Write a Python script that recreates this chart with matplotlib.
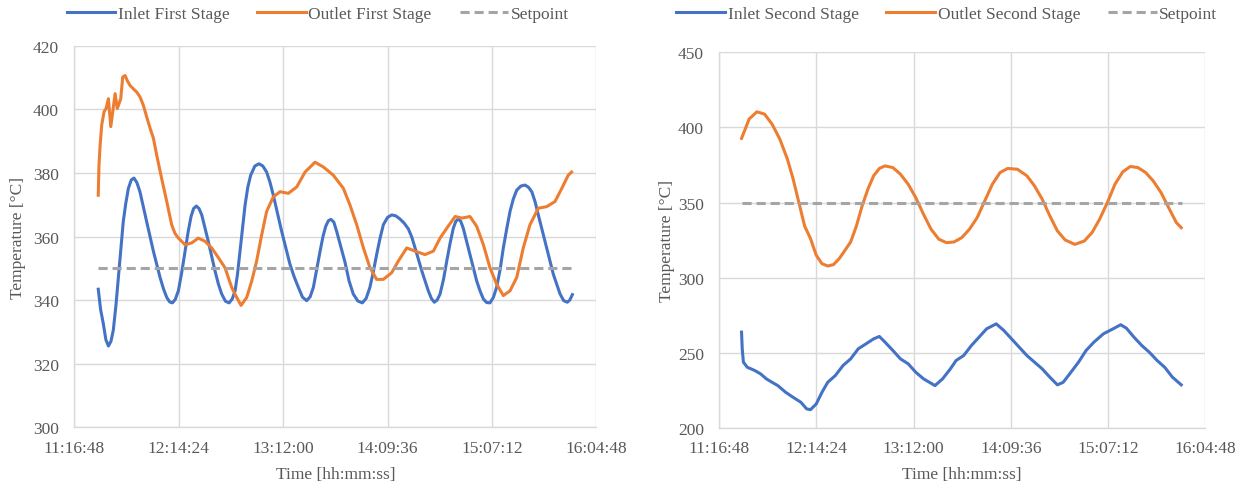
import numpy as np
import matplotlib
matplotlib.use("Agg")
import matplotlib.pyplot as plt
from matplotlib.ticker import FuncFormatter, MultipleLocator

# readings: time in minutes after 11:00, temperature in degC
t_in1 = [30.0, 31.3, 32.8, 34.2, 35.6, 37.0, 38.3, 39.7, 41.1, 42.5, 43.8, 45.2, 46.6, 48.2,
         49.7, 51.3, 53.0, 54.8, 56.7, 60.4, 64.1, 66.0, 67.8, 69.4, 70.9, 72.5, 74.2, 76.0,
         77.9, 79.6, 81.2, 82.6, 84.1, 85.6, 87.1, 90.7, 94.4, 96.3, 98.1, 100.2, 102.2, 103.9,
         105.5, 106.8, 108.2, 109.6, 111.0, 112.5, 114.1, 116.4, 118.7, 120.8, 122.9, 124.7,
         126.6, 131.2, 135.8, 138.1, 140.4, 142.7, 145.0, 146.9, 148.7, 150.5, 152.4, 154.0,
         155.5, 157.0, 158.4, 160.0, 161.6, 166.1, 168.4, 170.7, 173.2, 175.7, 177.8, 179.9,
         181.8, 183.6, 185.5, 187.3, 189.6, 191.9, 194.2, 196.5, 198.8, 201.1, 203.0, 204.8,
         208.5, 212.1, 213.8, 215.4, 217.0, 218.6, 220.5, 222.3, 224.1, 225.9, 227.3, 228.7,
         230.0, 231.4, 235.1, 238.8, 240.7, 242.5, 244.3, 246.1, 248.0, 249.8, 251.7, 253.5,
         255.4, 257.2, 259.0, 260.9, 263.2, 265.5, 267.4, 269.2, 271.0, 272.8, 277.4, 281.1,
         284.8, 286.8, 288.8, 290.2, 291.6]
inlet1 = [343.4, 337.0, 332.5, 327.5, 325.5, 327.0, 330.5, 338.0, 347.1, 356.0, 364.7, 370.5,
          375.1, 377.8, 378.4, 377.0, 374.1, 369.5, 364.7, 355.4, 347.1, 343.5, 340.8, 339.4,
          339.1, 340.2, 342.9, 348.5, 355.4, 361.5, 366.3, 368.8, 369.6, 368.8, 366.8, 358.5,
          349.2, 345.0, 341.9, 339.6, 339.1, 340.3, 342.9, 348.0, 355.4, 362.8, 369.9, 375.5,
          379.3, 382.2, 382.9, 382.2, 380.3, 377.2, 373.0, 361.6, 351.2, 347.3, 344.0, 340.9,
          339.8, 341.0, 344.0, 349.5, 355.4, 360.0, 363.2, 365.0, 365.4, 364.5, 361.5, 352.0,
          346.0, 341.9, 339.7, 339.1, 340.5, 344.0, 349.0, 354.3, 359.5, 363.7, 366.0, 366.8,
          366.5, 365.5, 364.2, 362.4, 359.8, 356.4, 349.2, 342.9, 340.5, 339.3, 340.0, 341.9,
          346.5, 352.3, 357.8, 362.6, 364.8, 365.5, 364.8, 362.6, 354.3, 346.0, 342.8, 340.3,
          339.2, 339.1, 340.8, 344.0, 349.5, 356.4, 362.5, 367.9, 371.8, 374.6, 375.9, 376.2,
          375.5, 374.1, 371.0, 366.8, 356.4, 348.1, 341.9, 339.8, 339.3, 340.0, 341.7]

t_out1 = [30.0, 30.2, 30.4, 31.0, 31.9, 33.2, 34.3, 35.6, 36.9, 38.0, 39.3, 40.5, 42.4, 43.5,
          44.8, 46.0, 47.5, 49.4, 51.2, 53.0, 54.9, 56.7, 58.6, 60.4, 62.3, 65.0, 67.8, 70.5,
          72.3, 74.2, 77.9, 81.6, 85.2, 88.9, 92.6, 96.3, 99.9, 103.6, 106.4, 108.8, 111.9,
          114.7, 117.4, 120.2, 122.9, 126.6, 130.3, 134.9, 139.5, 144.1, 149.6, 154.2, 159.7,
          165.2, 168.9, 172.6, 176.3, 179.9, 183.6, 187.3, 191.9, 195.6, 200.2, 204.8, 210.3,
          214.9, 218.6, 222.3, 226.9, 230.6, 235.1, 238.8, 242.5, 246.1, 249.8, 253.5, 257.2,
          260.9, 264.5, 268.2, 272.8, 277.4, 282.0, 285.7, 289.3, 291.2]
outlet1 = [373.0, 378.0, 382.4, 388.5, 395.1, 399.3, 400.3, 403.4, 394.6, 399.3, 405.0, 400.3,
           403.4, 410.2, 410.7, 409.1, 407.6, 406.5, 405.5, 404.0, 401.3, 397.7, 394.1, 391.0,
           385.5, 378.2, 371.0, 363.7, 361.0, 359.5, 357.4, 358.0, 359.5, 358.5, 356.4, 353.3,
           350.2, 344.0, 340.8, 338.3, 340.8, 346.0, 352.3, 360.6, 367.9, 372.5, 374.1, 373.6,
           375.6, 380.3, 383.4, 381.9, 379.3, 375.2, 369.9, 363.7, 356.4, 350.2, 346.5, 346.5,
           348.6, 352.3, 356.4, 355.4, 354.3, 355.4, 359.5, 362.6, 366.3, 365.8, 366.3, 363.2,
           357.4, 350.2, 345.0, 341.4, 342.9, 347.1, 356.4, 363.7, 368.9, 369.4, 371.0, 375.1,
           379.3, 380.3]

t_in2 = [30.0, 30.4, 31.1, 33.4, 35.7, 37.9, 41.3, 44.7, 48.1, 51.5, 56.1, 60.6, 65.2, 68.6,
         70.9, 74.3, 77.7, 81.1, 85.6, 90.2, 94.7, 99.2, 103.8, 108.3, 111.7, 115.1, 119.7,
         124.2, 128.8, 133.3, 137.9, 144.7, 149.2, 153.8, 157.2, 161.7, 166.3, 170.8, 175.3,
         181.0, 185.5, 190.1, 194.6, 199.2, 203.7, 208.3, 212.8, 217.3, 220.7, 225.3, 229.8,
         234.3, 238.9, 244.6, 250.3, 254.8, 258.2, 262.7, 267.3, 271.8, 276.4, 280.9, 285.5,
         290.7]
inlet2 = [263.8, 252.7, 243.8, 240.4, 239.3, 238.2, 236.0, 232.7, 230.4, 228.2, 223.8, 220.4,
          217.1, 212.7, 212.2, 216.0, 223.8, 230.4, 234.9, 241.6, 246.0, 252.7, 256.0, 259.3,
          260.9, 257.1, 251.6, 246.0, 242.7, 237.1, 232.7, 228.2, 232.7, 239.3, 244.9, 248.2,
          254.9, 260.4, 266.0, 269.3, 264.9, 259.3, 253.8, 248.2, 243.8, 239.3, 233.8, 228.7,
          230.4, 237.1, 243.8, 251.6, 257.1, 262.7, 266.0, 268.7, 266.4, 260.4, 254.9, 250.4,
          244.9, 240.4, 233.8, 228.7]

t_out2 = [30.0, 34.5, 39.1, 43.6, 48.1, 52.7, 57.2, 60.6, 64.0, 67.4, 70.9, 74.3, 77.7, 81.1,
          84.5, 87.9, 91.3, 94.7, 98.1, 101.5, 104.9, 108.3, 111.7, 115.1, 119.7, 124.2, 128.8,
          133.3, 137.9, 142.4, 147.0, 151.5, 156.0, 160.6, 165.1, 169.7, 174.2, 178.7, 183.3,
          187.8, 193.5, 199.2, 203.7, 208.3, 212.8, 217.3, 221.9, 227.6, 233.2, 237.8, 242.3,
          246.9, 251.4, 256.0, 260.5, 265.0, 269.6, 274.1, 278.7, 283.2, 287.8, 290.7]
outlet2 = [392.7, 405.6, 410.4, 408.9, 402.2, 392.2, 378.9, 365.6, 350.0, 334.4, 326.0, 314.9,
           309.3, 307.8, 308.7, 312.7, 318.2, 323.8, 334.4, 347.8, 358.9, 367.8, 372.7, 374.4,
           373.3, 368.9, 362.2, 353.3, 342.2, 332.2, 325.6, 323.3, 323.8, 326.7, 332.2, 340.0,
           351.1, 362.2, 370.0, 372.7, 372.2, 367.8, 361.1, 352.2, 341.1, 331.1, 325.1, 322.2,
           324.4, 330.0, 338.9, 350.0, 362.2, 370.4, 374.0, 373.3, 370.0, 364.4, 356.7, 346.7,
           336.7, 333.3]

setpoint = 350.0
run_start, run_end = 30.0, 291.2

labels1 = ["Inlet First Stage", "Outlet First Stage", "Setpoint"]
labels2 = ["Inlet Second Stage", "Outlet Second Stage", "Setpoint"]

BLUE = "#4472C4"
ORANGE = "#ED7D31"
GREY = "#A5A5A5"
GRID = "#D9D9D9"
TEXT = "#595959"

plt.rcParams["font.family"] = ["Liberation Serif", "DejaVu Serif"]
plt.rcParams["font.size"] = 12


def hours(minutes):
    return 11 + np.asarray(minutes) / 60.0


def hms(x, pos):
    s = int(round(x * 3600))
    return "%d:%02d:%02d" % (s // 3600, (s % 3600) // 60, s % 60)


def style_axes(ax, ymin, ymax, ystep):
    ax.set_xlim(11.28, 16.08)
    ax.set_xticks(np.arange(11.28, 16.09, 0.96))
    ax.xaxis.set_major_formatter(FuncFormatter(hms))
    ax.set_ylim(ymin, ymax)
    ax.yaxis.set_major_locator(MultipleLocator(ystep))
    ax.grid(True, color=GRID, linewidth=1.0)
    ax.set_axisbelow(True)
    for side in ("top", "right"):
        ax.spines[side].set_visible(False)
    for side in ("left", "bottom"):
        ax.spines[side].set_color(GRID)
        ax.spines[side].set_linewidth(1.0)
    ax.tick_params(axis="both", length=0, colors=TEXT, labelsize=12.5)
    ax.tick_params(axis="y", pad=11)
    ax.tick_params(axis="x", pad=9)
    ax.set_xlabel("Time [hh:mm:ss]", color=TEXT, fontsize=12.5)
    ax.set_ylabel("Temperature [°C]", color=TEXT, fontsize=12.5)
    ax.xaxis.label.set_va("center")
    ax.yaxis.label.set_va("center")


def draw_panel(ax, t_in, v_in, t_out, v_out, labels):
    ax.plot(hours(t_in), v_in, color=BLUE, lw=2.2, label=labels[0], solid_joinstyle="round")
    ax.plot(hours(t_out), v_out, color=ORANGE, lw=2.2, label=labels[1], solid_joinstyle="round")
    ax.plot(hours([run_start, run_end]), [setpoint, setpoint], color=GREY, lw=2.2,
            dashes=(3, 1.6), label=labels[2])


fig = plt.figure(figsize=(12.41, 4.85), dpi=100)

ax1 = fig.add_axes([0.0599, 0.1175, 0.4206, 0.7856])
draw_panel(ax1, t_in1, inlet1, t_out1, outlet1, labels1)
style_axes(ax1, 300, 420, 20)
ax1.xaxis.set_label_coords(0.5, -0.123)
ax1.yaxis.set_label_coords(-0.108, 0.5)

ax2 = fig.add_axes([0.5796, 0.1155, 0.3914, 0.7746])
draw_panel(ax2, t_in2, inlet2, t_out2, outlet2, labels2)
style_axes(ax2, 200, 450, 50)
ax2.xaxis.set_label_coords(0.5, -0.123)
ax2.yaxis.set_label_coords(-0.108, 0.5)

for ax, cx in ((ax1, 0.256), (ax2, 0.763)):
    leg = ax.legend(loc="center", bbox_to_anchor=(cx, 0.969), bbox_transform=fig.transFigure,
                    ncol=3, frameon=False, handlelength=2.8, handletextpad=0.15,
                    columnspacing=1.6, fontsize=12.5)
    for txt in leg.get_texts():
        txt.set_color(TEXT)

fig.savefig("out.png", dpi=100)
